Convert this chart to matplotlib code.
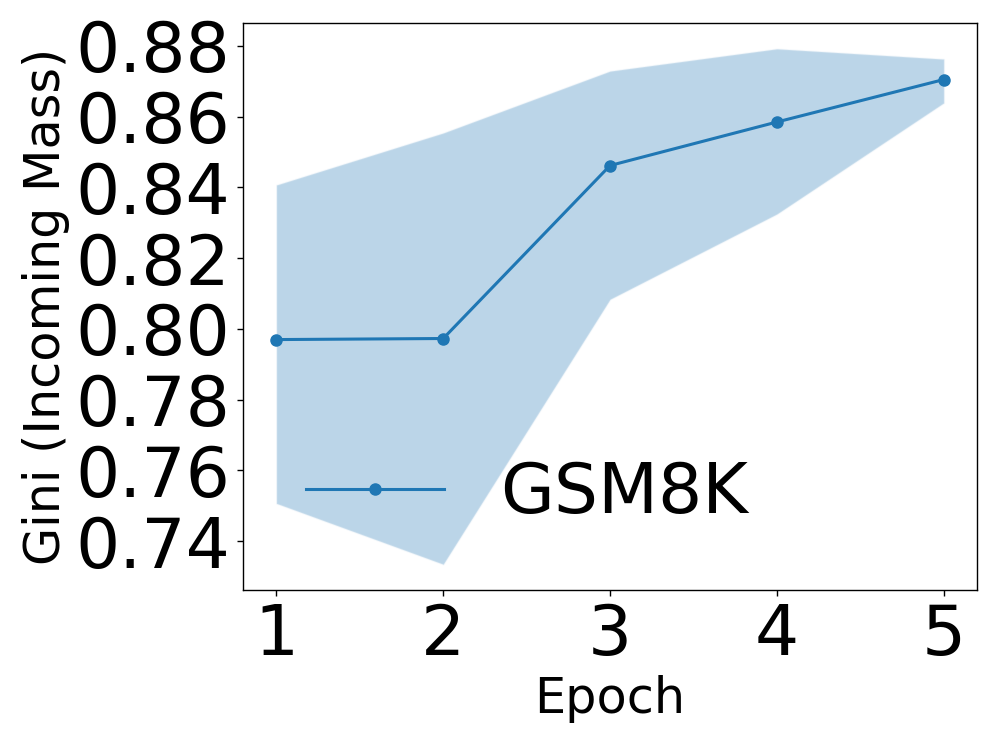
import numpy as np
import matplotlib.pyplot as plt

# Gini of incoming mass per epoch
epochs = [1, 2, 3, 4, 5]
gini_mean = [0.7970, 0.7973, 0.8462, 0.8585, 0.8705]
gini_upper = [0.8407, 0.8554, 0.8729, 0.8792, 0.8763]
gini_lower = [0.7507, 0.7335, 0.8084, 0.8325, 0.8639]
yticks = [0.74, 0.76, 0.78, 0.80, 0.82, 0.84, 0.86, 0.88]

fig = plt.figure(figsize=(9.96, 7.47), dpi=100)
ax = fig.add_axes([0.244, 0.2102, 0.737, 0.759])

ax.fill_between(epochs, gini_lower, gini_upper, facecolor='tab:blue', alpha=0.3,
                edgecolor='#dbe8f3', linewidth=1.2)
ax.plot(epochs, gini_mean, color='tab:blue', marker='o', lw=2.2, ms=8, label='GSM8K')

ax.set_xticks(epochs)
ax.set_yticks(yticks)
ax.set_yticklabels([f'{t:.2f}' for t in yticks])
ax.set_xlabel('Epoch', fontsize=35.5)
ax.set_ylabel('Gini (Incoming Mass)', fontsize=35.5)
ax.tick_params(labelsize=50, length=4.5, width=1, pad=4.5)
for s in ax.spines.values():
    s.set_linewidth(1.0)

ax.legend(loc='lower left', fontsize=50, frameon=False)

fig.savefig('out.png', dpi=100)
